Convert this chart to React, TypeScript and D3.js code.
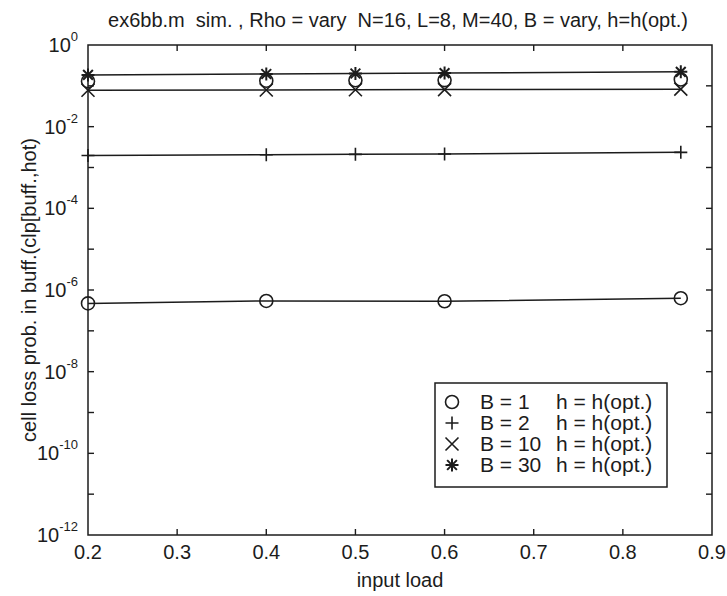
import React from 'react';
import * as d3 from 'd3';

const xTicks = [0.2, 0.3, 0.4, 0.5, 0.6, 0.7, 0.8, 0.9];
const yLabelExps = [0, -2, -4, -6, -8, -10, -12];
const yTickExps = [0, -1, -2, -3, -4, -5, -6, -7, -8, -9, -10, -11, -12];

const loadAll = [0.2, 0.4, 0.5, 0.6, 0.865];
const loadB1 = [0.2, 0.4, 0.6, 0.865];
const seriesB1 = [4.7e-7, 5.4e-7, 5.3e-7, 6.3e-7];
const seriesB2 = [1.96e-3, 2.05e-3, 2.1e-3, 2.15e-3, 2.35e-3];
const seriesB10 = [0.078, 0.079, 0.08, 0.081, 0.083];
const seriesB30 = [0.185, 0.195, 0.2, 0.205, 0.22];
const extraCircles = [0.13, 0.133, 0.137, 0.138, 0.143];

const legendB = ['B = 1', 'B = 2', 'B = 10', 'B = 30'];
const legendH = ['h = h(opt.)', 'h = h(opt.)', 'h = h(opt.)', 'h = h(opt.)'];
const legendMarkers = ['o', '+', 'x', '*'];

const title = 'ex6bb.m  sim. , Rho = vary  N=16, L=8, M=40, B = vary, h=h(opt.)';
const xLabel = 'input load';
const yLabel = 'cell loss prob. in buff.(clp[buff.,hot)';

const W = 727, H = 596;
const L = 88, R = 712, T = 45, B = 535;
const INK = '#1c1c1c';
const FONT = '"Liberation Sans", Arial, sans-serif';

function Marker({ type, x, y }: { type: string; x: number; y: number }) {
  const s = 6.5;
  const p = { stroke: INK, strokeWidth: 1.6, fill: 'none' };
  if (type === 'o') return <circle cx={x} cy={y} r={6.5} {...p} />;
  if (type === '+')
    return <path d={`M${x - s},${y}H${x + s}M${x},${y - s}V${y + s}`} {...p} />;
  if (type === 'x')
    return <path d={`M${x - s},${y - s}L${x + s},${y + s}M${x - s},${y + s}L${x + s},${y - s}`} {...p} />;
  const d = s * 0.75;
  return (
    <path
      d={`M${x - s},${y}H${x + s}M${x},${y - s}V${y + s}M${x - d},${y - d}L${x + d},${y + d}M${x - d},${y + d}L${x + d},${y - d}`}
      {...p}
      strokeWidth={2}
    />
  );
}

export default function App() {
  const x = d3.scaleLinear().domain([0.2, 0.9]).range([L, R]);
  const y = d3.scaleLog().domain([1e-12, 1]).range([B, T]);
  const line = d3.line<[number, number]>().x(d => x(d[0])).y(d => y(d[1]));

  const lines = [
    { xs: loadB1, ys: seriesB1, m: 'o' },
    { xs: loadAll, ys: seriesB2, m: '+' },
    { xs: loadAll, ys: seriesB10, m: 'x' },
    { xs: loadAll, ys: seriesB30, m: '*' },
  ];

  return (
    <svg width={W} height={H} style={{ position: 'absolute', left: 0, top: 0, background: '#fff' }} fontFamily={FONT}>
      <rect x={0} y={0} width={W} height={H} fill="#fff" />
      <rect x={L} y={T} width={R - L} height={B - T} fill="none" stroke={INK} strokeWidth={1.5} />
      {xTicks.slice(1, -1).map(t => (
        <g key={'xt' + t}>
          <line x1={x(t)} x2={x(t)} y1={B} y2={B - 6} stroke={INK} strokeWidth={1.4} />
          <line x1={x(t)} x2={x(t)} y1={T} y2={T + 6} stroke={INK} strokeWidth={1.4} />
        </g>
      ))}
      {yTickExps.slice(1, -1).map(e => (
        <g key={'yt' + e}>
          <line x1={L} x2={L + 6} y1={y(Math.pow(10, e))} y2={y(Math.pow(10, e))} stroke={INK} strokeWidth={1.4} />
          <line x1={R} x2={R - 6} y1={y(Math.pow(10, e))} y2={y(Math.pow(10, e))} stroke={INK} strokeWidth={1.4} />
        </g>
      ))}
      {xTicks.map(t => (
        <text key={'xl' + t} x={x(t)} y={B + 24} fontSize={20} textAnchor="middle" fill={INK}>
          {t.toFixed(1)}
        </text>
      ))}
      {yLabelExps.map(e => (
        <text key={'yl' + e} x={78} y={y(Math.pow(10, e)) + 7} fontSize={20} textAnchor="end" fill={INK}>
          10
          <tspan fontSize={13} dy={-11}>{String(e)}</tspan>
        </text>
      ))}
      <text x={400} y={H - 9} fontSize={20} textAnchor="middle" fill={INK}>{xLabel}</text>
      <text transform={`translate(36,${(T + B) / 2}) rotate(-90)`} fontSize={20} textAnchor="middle" fill={INK}>
        {yLabel}
      </text>
      <text x={398} y={27} fontSize={20} textAnchor="middle" fill={INK} style={{ whiteSpace: 'pre' }}>{title}</text>

      {lines.map((s, i) => (
        <g key={'s' + i}>
          <path d={line(s.xs.map((v, j) => [v, s.ys[j]] as [number, number])) || ''} fill="none" stroke={INK} strokeWidth={1.5} />
          {s.xs.map((v, j) => (
            <Marker key={j} type={s.m} x={x(v)} y={y(s.ys[j])} />
          ))}
        </g>
      ))}
      {loadAll.map((v, j) => (
        <Marker key={'ec' + j} type="o" x={x(v)} y={y(extraCircles[j])} />
      ))}

      <rect x={435} y={383} width={232} height={104} fill="#fff" stroke={INK} strokeWidth={1.5} />
      {legendB.map((lb, i) => {
        const cy = 402 + i * 21;
        return (
          <g key={'lg' + i}>
            <Marker type={legendMarkers[i]} x={452} y={cy} />
            <text x={480} y={cy + 7} fontSize={21} fill={INK}>{lb}</text>
            <text x={556} y={cy + 7} fontSize={21} fill={INK}>{legendH[i]}</text>
          </g>
        );
      })}
    </svg>
  );
}
